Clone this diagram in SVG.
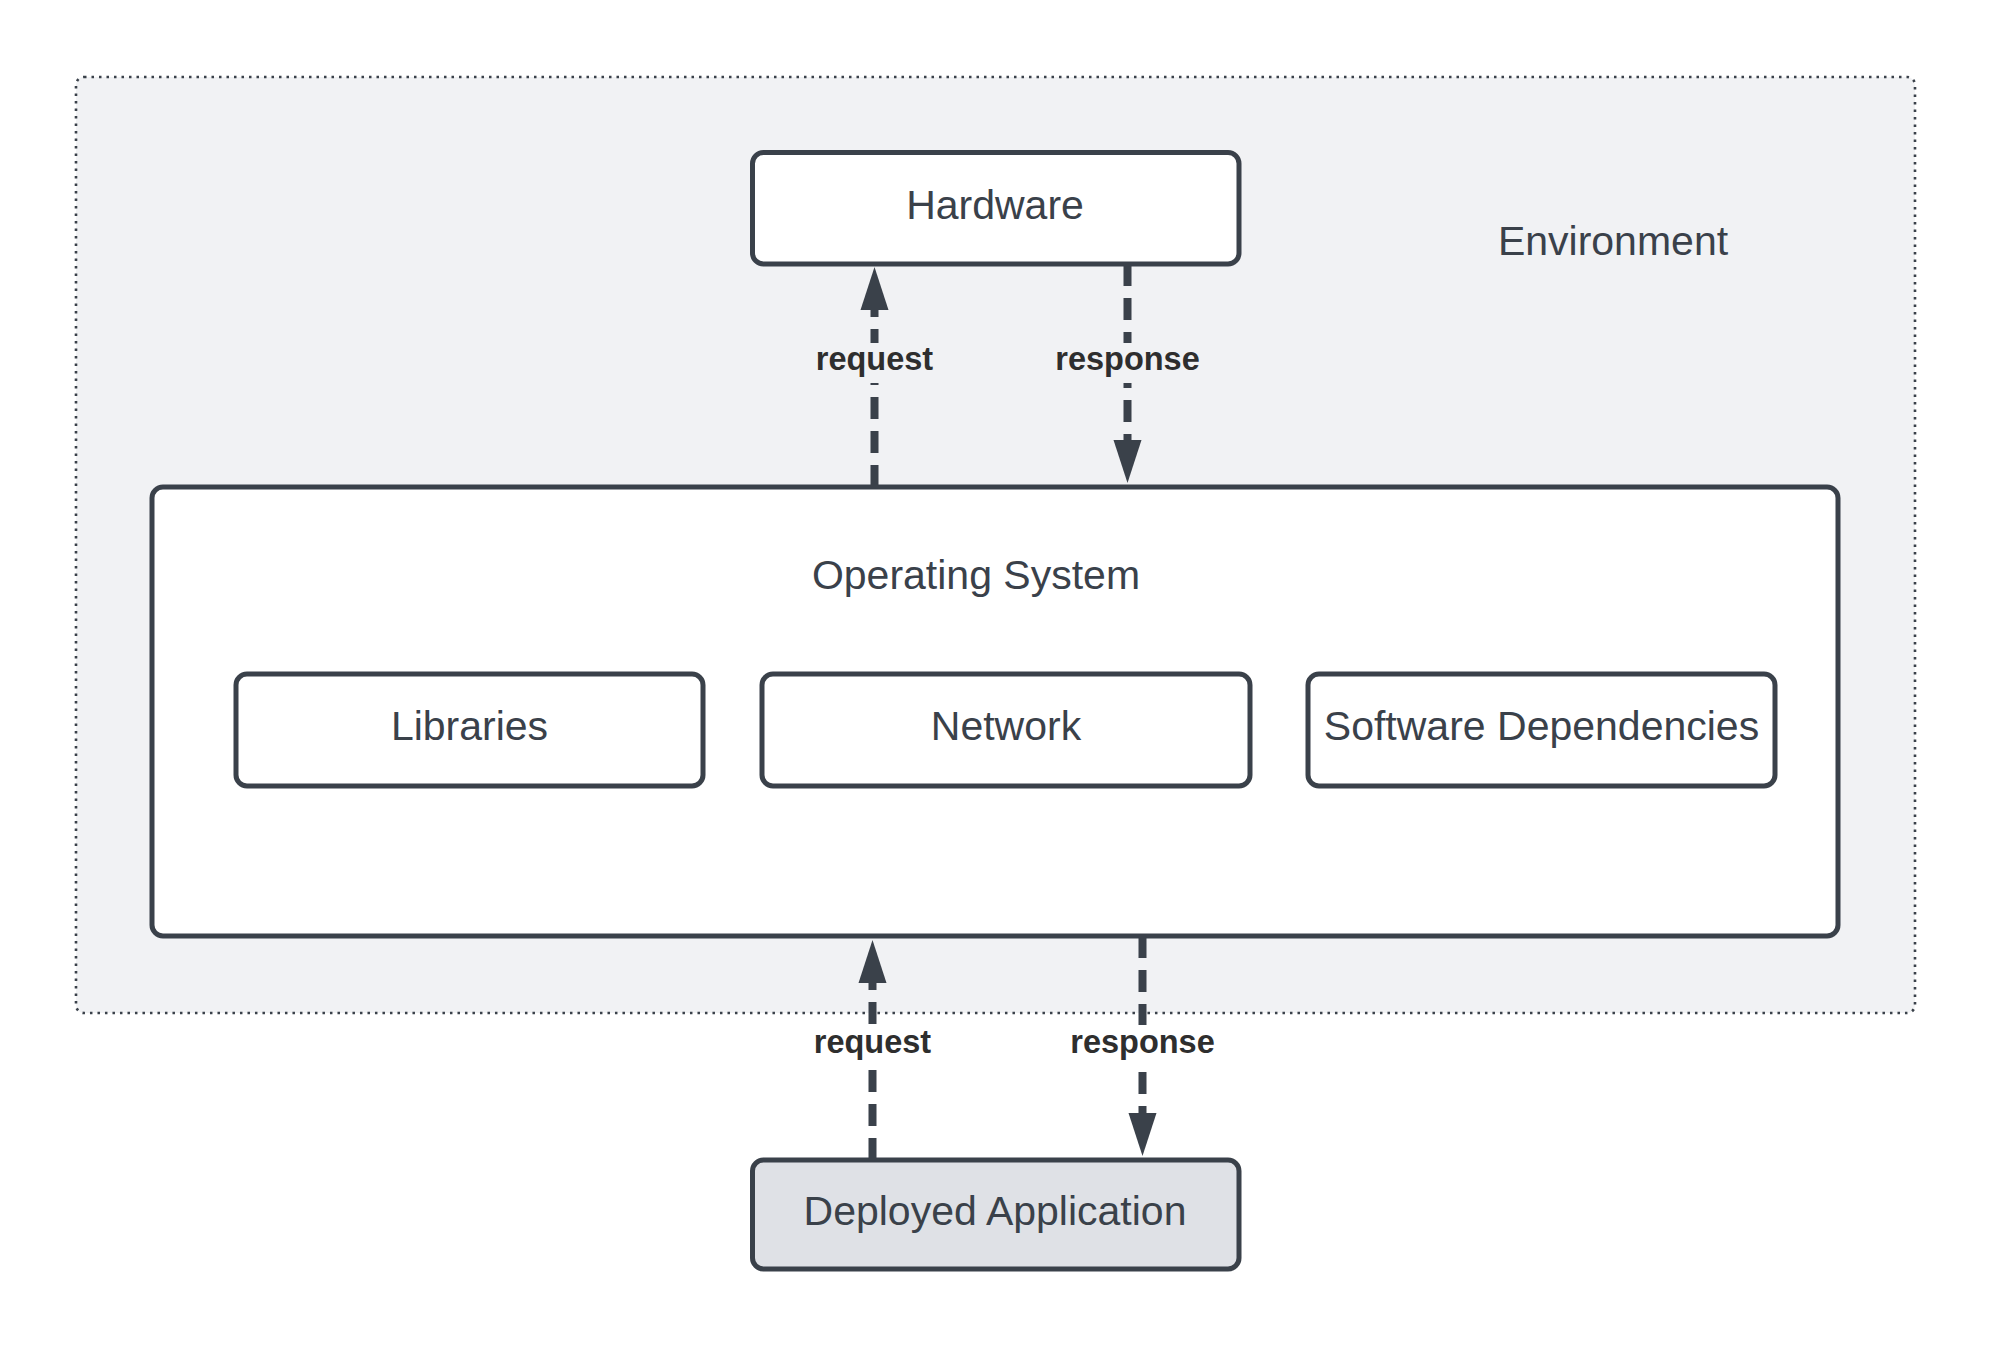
<svg xmlns="http://www.w3.org/2000/svg" width="1991" height="1346" viewBox="0 0 1991 1346">
  <defs>
    <style>
      .box { fill: #ffffff; stroke: #3a414a; stroke-width: 5; }
      .lbl { font-family: "Liberation Sans", Arial, sans-serif; font-size: 41px; fill: #3a414a; text-anchor: middle; }
      .elbl { font-family: "Liberation Sans", Arial, sans-serif; font-size: 32.5px; font-weight: bold; fill: #2e2e2e; text-anchor: middle; }
      .conn { fill: none; stroke: #3a414a; stroke-width: 8; stroke-dasharray: 22 12; marker-end: url(#ah); }
    </style>
    <marker id="ah" markerUnits="userSpaceOnUse" markerWidth="44" markerHeight="30" viewBox="0 0 44 30" refX="0" refY="15" orient="auto" overflow="visible">
      <path d="M0,1 L43,15 L0,29 z" fill="#3a414a"/>
    </marker>
  </defs>
  <rect width="1991" height="1346" fill="#ffffff"/>

  <g id="environment">
    <rect x="76" y="77" width="1839" height="936" rx="8" fill="#f1f2f4" stroke="#3a414a" stroke-width="2.6" stroke-dasharray="2.5 5"/>
    <text class="lbl" x="1613" y="255">Environment</text>
  </g>

  <g id="hardware">
    <rect class="box" x="752.5" y="152.5" width="486.5" height="111.5" rx="11"/>
    <text class="lbl" x="995" y="219">Hardware</text>
  </g>

  <g id="operating-system">
    <rect class="box" x="152" y="487" width="1686" height="449" rx="11"/>
    <text class="lbl" x="976" y="589">Operating System</text>
  </g>

  <g id="libraries">
    <rect class="box" x="236" y="674" width="467" height="112" rx="11"/>
    <text class="lbl" x="469.5" y="740">Libraries</text>
  </g>

  <g id="network">
    <rect class="box" x="762" y="674" width="488" height="112" rx="11"/>
    <text class="lbl" x="1006" y="740">Network</text>
  </g>

  <g id="software-dependencies">
    <rect class="box" x="1308" y="674" width="467" height="112" rx="11"/>
    <text class="lbl" x="1541.5" y="740">Software Dependencies</text>
  </g>

  <g id="deployed-application">
    <rect class="box" x="752.5" y="1160" width="486.5" height="109" rx="11" style="fill:#dfe1e6"/>
    <text class="lbl" x="995" y="1225">Deployed Application</text>
  </g>

  <g id="connectors">
    <!-- OS -> Hardware request -->
    <path class="conn" d="M874.5,487 L874.5,310"/>
    <rect x="812" y="343" width="125" height="40" fill="#f1f2f4"/>
    <text class="elbl" x="874.5" y="370">request</text>

    <!-- Hardware -> OS response -->
    <path class="conn" d="M1127.5,264 L1127.5,440"/>
    <rect x="1052" y="343" width="151" height="40" fill="#f1f2f4"/>
    <text class="elbl" x="1127.5" y="370">response</text>

    <!-- Deployed -> OS request -->
    <path class="conn" d="M872.5,1160 L872.5,983"/>
    <rect x="810" y="1027" width="125" height="37" fill="#ffffff"/>
    <text class="elbl" x="872.5" y="1053">request</text>

    <!-- OS -> Deployed response -->
    <path class="conn" d="M1142.5,936 L1142.5,1113"/>
    <rect x="1067" y="1025" width="151" height="39" fill="#ffffff"/>
    <text class="elbl" x="1142.5" y="1053">response</text>
  </g>
</svg>
